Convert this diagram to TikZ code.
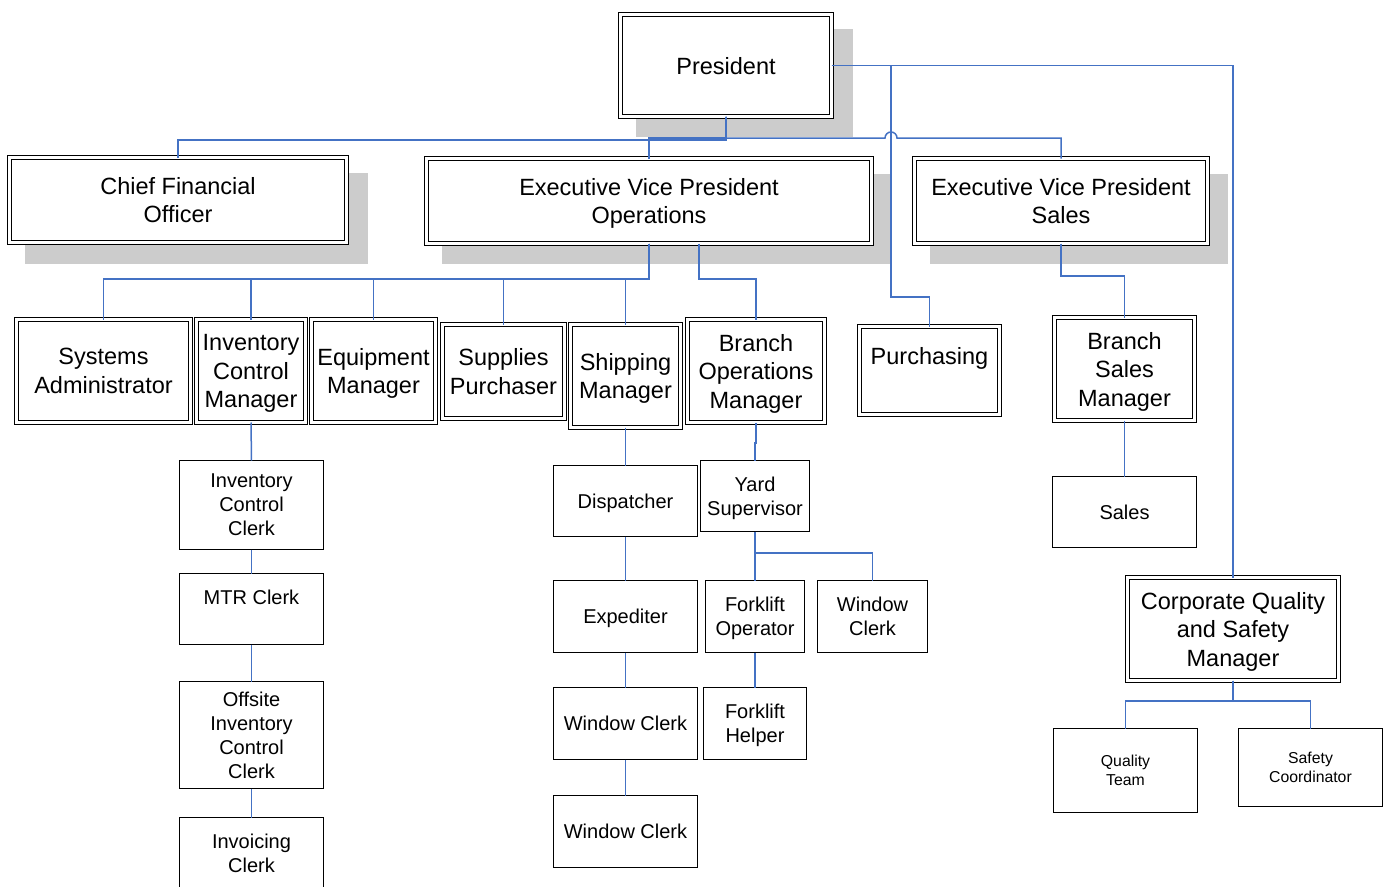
\documentclass[tikz,border=0pt]{standalone}
\usepackage{fontspec}
\setmainfont{Liberation Sans}
\definecolor{conncol}{RGB}{68,114,196}
\newcommand\bigf{\fontsize{23.5}{28.5}\selectfont}
\newcommand\medf{\fontsize{20}{24}\selectfont}
\newcommand\smlf{\fontsize{15.8}{19}\selectfont}
\begin{document}
\begin{tikzpicture}[x=1pt,y=-1pt,
  dbox/.style={draw, fill=white, double, line width=1.3pt, double distance=2.4pt, inner sep=0pt, outer sep=0pt, align=center, font=\bigf, text depth=0pt},
  sbox/.style={draw, fill=white, line width=1.3pt, inner sep=0pt, outer sep=0pt, align=center, font=\medf, text depth=0pt},
  shade/.style={fill=black!20},
  conn/.style={draw=conncol, line width=1.5pt}]
\useasboundingbox (0,0) rectangle (1386,886);
\clip (0,0) rectangle (1386,886);
% shadows
\fill[shade] (636,29) rectangle (853,137);
\fill[shade] (25,173) rectangle (368,264);
\fill[shade] (442,174) rectangle (892,264);
\fill[shade] (930,174) rectangle (1228,264);
% top level boxes
\node[dbox, minimum width=211pt, minimum height=102pt] (pres) at (726,65.5) {President};
\node[dbox, minimum width=337pt, minimum height=85pt] (cfo) at (178,200) {Chief Financial\\Officer};
\node[dbox, minimum width=445pt, minimum height=85pt] (evpo) at (649,201) {Executive Vice President\\Operations};
\node[dbox, minimum width=293pt, minimum height=85pt] (evps) at (1061,201) {Executive Vice President\\Sales};
% second level
\node[dbox, minimum width=174pt, minimum height=103pt] (sa) at (103.5,371) {Systems\\Administrator};
\node[dbox, minimum width=109pt, minimum height=103pt] (icm) at (251,371) {Inventory\\Control\\Manager};
\node[dbox, minimum width=124pt, minimum height=103pt] (em) at (373.5,371) {Equipment\\Manager};
\node[dbox, minimum width=122pt, minimum height=94pt] (sp) at (503.5,371.5) {Supplies\\Purchaser};
\node[dbox, minimum width=110pt, minimum height=103pt] (shm) at (625.5,376) {Shipping\\Manager};
\node[dbox, minimum width=137pt, minimum height=103pt] (bom) at (756,371) {Branch\\Operations\\Manager};
\node[dbox, minimum width=140pt, minimum height=88pt] (pur) at (929.5,370.5) {Purchasing\\\mbox{}};
\node[dbox, minimum width=140pt, minimum height=103pt] (bsm) at (1124.5,369) {Branch\\Sales\\Manager};
\node[dbox, minimum width=211pt, minimum height=103pt] (cqsm) at (1233,629) {Corporate Quality\\and Safety\\Manager};
% lower levels
\node[sbox, minimum width=144pt, minimum height=89pt] (icc) at (251.5,505) {Inventory\\Control\\Clerk};
\node[sbox, minimum width=144pt, minimum height=71pt] (mtr) at (251.5,609) {MTR Clerk\\\mbox{}};
\node[sbox, minimum width=144pt, minimum height=107pt] (oicc) at (251.5,735) {Offsite\\Inventory\\Control\\Clerk};
\node[sbox, minimum width=144pt, minimum height=71pt] (inv) at (251.5,853) {Invoicing\\Clerk};
\node[sbox, minimum width=144pt, minimum height=71pt] (disp) at (625.5,501) {Dispatcher};
\node[sbox, minimum width=109pt, minimum height=71pt] (yard) at (755,496) {Yard\\Supervisor};
\node[sbox, minimum width=144pt, minimum height=72pt] (exp) at (625.5,616.5) {Expediter};
\node[sbox, minimum width=99pt, minimum height=72pt] (fo) at (755,616.5) {Forklift\\Operator};
\node[sbox, minimum width=110pt, minimum height=72pt] (wc3) at (872.5,616.5) {Window\\Clerk};
\node[sbox, minimum width=144pt, minimum height=72pt] (wc1) at (625.5,723.5) {Window Clerk};
\node[sbox, minimum width=103pt, minimum height=72pt] (fh) at (755,723.5) {Forklift\\Helper};
\node[sbox, minimum width=144pt, minimum height=72pt] (wc2) at (625.5,831.5) {Window Clerk};
\node[sbox, minimum width=144pt, minimum height=71pt] (sales) at (1124.5,512) {Sales};
\node[sbox, minimum width=144pt, minimum height=84pt, font=\smlf] (qt) at (1125.5,770.5) {Quality\\Team};
\node[sbox, minimum width=144pt, minimum height=78pt, font=\smlf] (sc) at (1310.5,767.5) {Safety\\Coordinator};
% connectors
\draw[conn] (pres.south) |- (cfo.north |- 0,140) -- (cfo.north);
\draw[conn] (pres.south) |- (evpo.north |- 0,138) -- (evpo.north);
\draw[conn] (pres.south) |- (885,138) arc[start angle=180, end angle=360, radius=6] -| (evps.north);
\draw[conn] (pres.east) -| (cqsm.north);
\draw[conn] (pres.east) -| (891,297) -| (pur.north);
\foreach \c in {sa,icm,em,sp,shm}{
  \draw[conn] (evpo.south) |- (\c.north |- 0,279) -- (\c.north);
}
\draw[conn] ([xshift=50pt]evpo.south) |- (bom.north |- 0,279) -- (bom.north);
\draw[conn] (evps.south) |- (bsm.north |- 0,276) -- (bsm.north);
\draw[conn] (bsm.south) -- (sales.north);
\draw[conn] (cqsm.south) |- (qt.north |- 0,701) -- (qt.north);
\draw[conn] (cqsm.south) |- (sc.north |- 0,701) -- (sc.north);
\draw[conn] (icm.south) -- (icc.north);
\draw[conn] (icc.south) -- (mtr.north);
\draw[conn] (mtr.south) -- (oicc.north);
\draw[conn] (oicc.south) -- (inv.north);
\draw[conn] (shm.south) -- (disp.north);
\draw[conn] (disp.south) -- (exp.north);
\draw[conn] (exp.south) -- (wc1.north);
\draw[conn] (wc1.south) -- (wc2.north);
\draw[conn] (bom.south) |- (yard.north |- 0,443) -- (yard.north);
\draw[conn] (yard.south) -- (fo.north);
\draw[conn] (yard.south) |- (wc3.north |- 0,553) -- (wc3.north);
\draw[conn] (fo.south) -- (fh.north);
\end{tikzpicture}
\end{document}
